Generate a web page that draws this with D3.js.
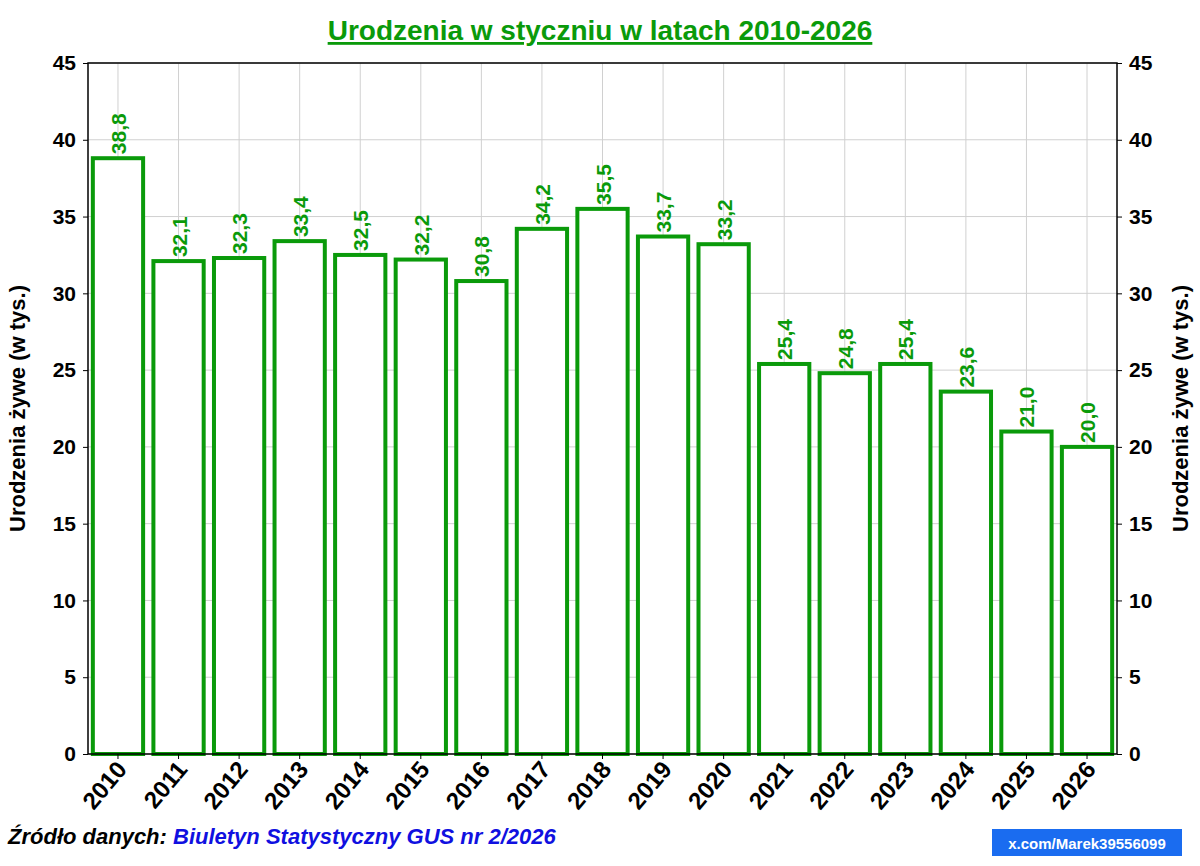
<!DOCTYPE html>
<html><head><meta charset="utf-8">
<script src="https://cdn.jsdelivr.net/npm/d3@7"></script>
<style>body{margin:0;background:#fff}text{font-family:"Liberation Sans",Arial,sans-serif}</style>
</head><body>
<svg id="c" width="1200" height="866"></svg>
<script>
const years = ["2010","2011","2012","2013","2014","2015","2016","2017","2018","2019","2020","2021","2022","2023","2024","2025","2026"];
const births = [38.8,32.1,32.3,33.4,32.5,32.2,30.8,34.2,35.5,33.7,33.2,25.4,24.8,25.4,23.6,21.0,20.0];
const yTicks = [0,5,10,15,20,25,30,35,40,45];
const green = "#0a9a0a";
const svg = d3.select("#c");
const L=88,R=1117,T=63,B=754;
const x = d3.scaleBand().domain(years).range([L,R]).paddingInner(0.17).paddingOuter(0.08);
const y = d3.scaleLinear().domain([0,45]).range([B,T]);
svg.append("g").selectAll("line").data(yTicks).join("line")
 .attr("x1",L).attr("x2",R).attr("y1",d=>y(d)).attr("y2",d=>y(d)).attr("stroke","#d0d0d0");
svg.append("g").selectAll("line").data(years).join("line")
 .attr("x1",d=>x(d)+x.bandwidth()/2).attr("x2",d=>x(d)+x.bandwidth()/2).attr("y1",T).attr("y2",B).attr("stroke","#d0d0d0");
svg.append("g").selectAll("rect").data(births).join("rect")
 .attr("x",(d,i)=>x(years[i])).attr("width",x.bandwidth())
 .attr("y",d=>y(d)).attr("height",d=>B-y(d))
 .attr("fill","#fff").attr("stroke",green).attr("stroke-width",4);
svg.append("g").selectAll("text").data(births).join("text")
 .attr("transform",(d,i)=>`translate(${x(years[i])+x.bandwidth()/2+8},${y(d)-4}) rotate(-90)`)
 .attr("fill",green).attr("font-size",21).attr("font-weight","bold")
 .text(d=>d.toFixed(1).replace(".",","));
svg.append("rect").attr("x",L).attr("y",T).attr("width",R-L).attr("height",B-T).attr("fill","none").attr("stroke","#000").attr("stroke-width",1.5);
const ax=svg.append("g").attr("transform",`translate(${L},0)`).call(d3.axisLeft(y).tickValues(yTicks).tickSize(5).tickSizeOuter(0));
const ax2=svg.append("g").attr("transform",`translate(${R},0)`).call(d3.axisRight(y).tickValues(yTicks).tickSize(5).tickSizeOuter(0));
const bx=svg.append("g").attr("transform",`translate(0,${B})`).call(d3.axisBottom(x).tickSize(5).tickSizeOuter(0));
[ax,ax2,bx].forEach(a=>{a.select(".domain").remove();a.selectAll("text").attr("font-size",21).attr("font-weight","bold").attr("fill","#000").attr("font-family","Liberation Sans, Arial");});
ax.selectAll("text").attr("x",-12);ax2.selectAll("text").attr("x",12);
bx.selectAll("text").attr("text-anchor","end").attr("dy",0).attr("y",0)
 .attr("transform","translate(10,16) rotate(-50)").attr("font-size",24);
[25,1188].forEach(xx=>{
 svg.append("text").attr("transform",`translate(${xx},${(T+B)/2}) rotate(-90)`).attr("text-anchor","middle")
  .attr("font-size",22).attr("font-weight","bold").text("Urodzenia żywe (w tys.)");
});
svg.append("text").attr("x",600).attr("y",40).attr("text-anchor","middle").attr("fill",green)
 .attr("font-size",28).attr("font-weight","bold").attr("text-decoration","underline").text("Urodzenia w styczniu w latach 2010-2026");
const s=svg.append("text").attr("x",8).attr("y",844).attr("font-size",22).attr("font-weight","bold").attr("font-style","italic");
s.append("tspan").text("Źródło danych: ");
s.append("tspan").attr("fill","#1010e0").text("Biuletyn Statystyczny GUS nr 2/2026");
svg.append("rect").attr("x",992).attr("y",829).attr("width",190).attr("height",27).attr("fill","#1a6cf0");
svg.append("text").attr("x",1087).attr("y",849).attr("text-anchor","middle").attr("fill","#fff").attr("font-size",15).attr("font-weight","bold").text("x.com/Marek39556099");
</script>
</body></html>
